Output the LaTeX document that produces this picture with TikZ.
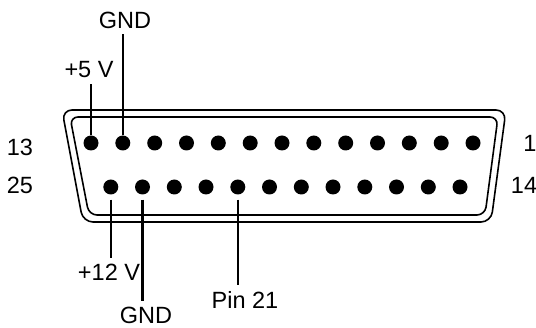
\documentclass[tikz,border=0pt]{standalone}
\usepackage{fontspec}
\setmainfont{Liberation Sans}
\begin{document}
\begin{tikzpicture}[x=1pt, y=-1pt,
  contact/.style={circle, fill, inner sep=0pt, minimum size=15pt},
  txt/.style={font=\fontsize{23.5}{28}\selectfont, inner sep=0pt, outer sep=6pt},
  leader/.style={line width=2.6pt},
  shell/.style={line width=1.6pt}]
\useasboundingbox (0,0) rectangle (536,328);
% connector shell
\draw[shell, rounded corners=10pt] (62,110) -- (506,110) -- (491,222) -- (83,222) -- cycle;
\draw[shell, rounded corners=8pt] (70,117) -- (498,117) -- (485,215) -- (89,215) -- cycle;
% upper row
\node[contact] (p1) at (473,143){};
\node[contact] (p2) at (441.2,143){};
\node[contact] (p3) at (409.3,143){};
\node[contact] (p4) at (377.5,143){};
\node[contact] (p5) at (345.7,143){};
\node[contact] (p6) at (313.8,143){};
\node[contact] (p7) at (282,143){};
\node[contact] (p8) at (250.2,143){};
\node[contact] (p9) at (218.3,143){};
\node[contact] (p10) at (186.5,143){};
\node[contact] (p11) at (154.7,143){};
\node[contact] (p12) at (122.8,143){};
\node[contact] (p13) at (91,143){};
% lower row
\node[contact] (p14) at (460,187){};
\node[contact] (p15) at (428.3,187){};
\node[contact] (p16) at (396.5,187){};
\node[contact] (p17) at (364.8,187){};
\node[contact] (p18) at (333,187){};
\node[contact] (p19) at (301.3,187){};
\node[contact] (p20) at (269.5,187){};
\node[contact] (p21) at (237.8,187){};
\node[contact] (p22) at (206,187){};
\node[contact] (p23) at (174.3,187){};
\node[contact] (p24) at (142.5,187){};
\node[contact] (p25) at (110.8,187){};
% pin numbers
\node[txt] (n13) at (20,147){13};
\node[txt] (n25) at (20,185){25};
\node[txt] (n1) at (530,143){1};
\node[txt] (n14) at (524,185){14};
% signal labels
\node[txt] (gndup) at (125,20){GND};
\node[txt] (plusfive) at (89,70){+5 V};
\node[txt] (plustwelve) at (109,272){+12 V};
\node[txt] (gnddown) at (146,315.5){GND};
\node[txt] (pinxxi) at (245,300){Pin 21};
\draw[leader](p13.north) -- (p13 |- plusfive.south);
\draw[leader](p12.north) -- (p12 |- gndup.south);
\draw[leader, shorten <=5pt](p25.south) -- (p25 |- plustwelve.north);
\draw[leader, shorten <=5pt](p24.south) -- (p24 |- gnddown.north);
\draw[leader, shorten <=5pt](p21.south) -- (p21 |- pinxxi.north);
\end{tikzpicture}
\end{document}
